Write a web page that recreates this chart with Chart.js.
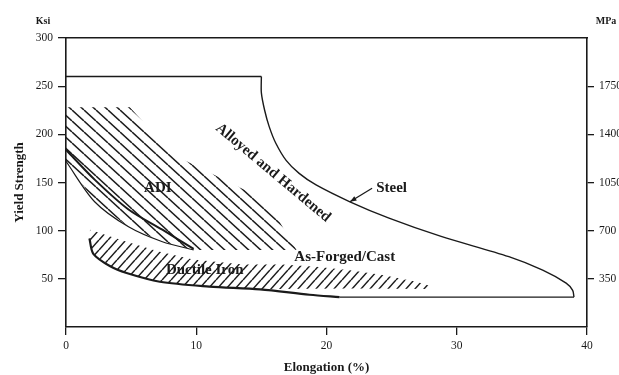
<!DOCTYPE html>
<html lang="en">
<head>
<meta charset="UTF-8">
<title>Yield Strength vs Elongation</title>
<script src="https://cdn.jsdelivr.net/npm/chart.js"></script>
<style>
  body { margin: 0; background: #fff; }
  canvas { display: block; }
</style>
</head>
<body>
<canvas id="chart" width="619" height="375"></canvas>
<script>
// outlines, as [elongation %, yield strength ksi]
const steelTop = [[0, 260], [15, 260]];
const steelCurve = [[15, 260], [15, 243], [15.25, 225], [15.6, 208], [16.1, 191], [16.9, 173],
  [17.9, 159.5], [19.2, 147.5], [21.8, 130], [24.8, 113], [28.8, 94], [34, 73],
  [36.6, 59], [38.4, 45.5], [38.9, 38], [39, 31]];
const steelBottom = [[39, 31], [21, 31]];
const ductileLower = [[21, 31], [18.7, 33.5], [14.9, 39], [11, 42], [7.2, 47], [4.65, 56],
  [3.4, 63], [2.1, 76], [1.8, 92]];
const adiUpper = [[0, 184], [2.2, 153], [4.8, 122], [7.4, 101], [9.8, 81]];
const adiLower = [[0, 172], [2.2, 130], [4.8, 104], [7.4, 88.5], [9.8, 80]];

// hatched areas
const adiHatch = [[0, 228], [4.9, 228], [8.2, 179], [14.2, 139], [16.4, 109], [17.7, 80],
  [9.8, 80], [7.4, 88.5], [4.8, 104], [2.2, 130], [0, 172]];
const ductileHatch = [[1.84, 101], [3.4, 94], [4.65, 88.6], [7.2, 78], [9.75, 70], [13.6, 65],
  [16.6, 65], [19.2, 62.6], [21.8, 59], [24.3, 54], [26.9, 47], [28.1, 42], [28.1, 39.5],
  [21.8, 40], [16, 39.5], [14.9, 39], [11, 42], [7.2, 47], [4.65, 56], [3.4, 63],
  [2.1, 76], [1.84, 92]];

const mpaTicks = [50, 100, 150, 200, 250];
const mpaLabels = ['350', '700', '1050', '1400', '1750'];

const regionLabels = [
  { text: 'ADI', at: [7.05, 144] },
  { text: 'Ductile Iron', at: [10.65, 59] },
  { text: 'As-Forged/Cast', at: [21.4, 73] },
  { text: 'Steel', at: [25, 144] },
  { text: 'Alloyed and Hardened', at: [15.9, 160], angle: 40 }
];
const steelArrow = [[23.5, 144], [21.8, 130]];

const ink = '#1a1a1a';
const serif = '"Liberation Serif", "DejaVu Serif", serif';

function hatch(w, h, rising) {
  const c = document.createElement('canvas');
  c.width = w; c.height = h;
  const g = c.getContext('2d');
  g.strokeStyle = ink;
  g.lineWidth = 1.5;
  for (const dx of [-w, 0, w]) {
    g.beginPath();
    if (rising) { g.moveTo(dx, h); g.lineTo(dx + w, 0); }
    else { g.moveTo(dx, 0); g.lineTo(dx + w, h); }
    g.stroke();
  }
  return g.createPattern(c, 'repeat');
}

const pts = arr => arr.map(p => ({ x: p[0], y: p[1] }));

function outline(arr, width, tension) {
  return { data: pts(arr), showLine: true, borderColor: ink, borderWidth: width,
    pointRadius: 0, tension: tension, fill: false };
}
function area(arr, pattern) {
  return { data: pts(arr), showLine: true, borderWidth: 0, borderColor: 'transparent',
    backgroundColor: pattern, pointRadius: 0, tension: 0, fill: 'shape' };
}

const notes = {
  id: 'notes',
  afterDatasetsDraw(chart) {
    const { ctx, chartArea, scales: { x, y } } = chart;
    ctx.save();
    ctx.fillStyle = ink;
    ctx.strokeStyle = ink;
    ctx.textAlign = 'center';
    ctx.textBaseline = 'middle';
    ctx.font = 'bold 15px ' + serif;
    regionLabels.forEach(l => {
      ctx.save();
      ctx.translate(x.getPixelForValue(l.at[0]), y.getPixelForValue(l.at[1]));
      ctx.rotate((l.angle || 0) * Math.PI / 180);
      ctx.fillText(l.text, 0, 0);
      ctx.restore();
    });

    // arrow from "Steel" to the curve
    const x0 = x.getPixelForValue(steelArrow[0][0]), y0 = y.getPixelForValue(steelArrow[0][1]);
    const x1 = x.getPixelForValue(steelArrow[1][0]), y1 = y.getPixelForValue(steelArrow[1][1]);
    const a = Math.atan2(y1 - y0, x1 - x0);
    ctx.lineWidth = 1.3;
    ctx.beginPath(); ctx.moveTo(x0, y0); ctx.lineTo(x1, y1); ctx.stroke();
    ctx.beginPath();
    ctx.moveTo(x1, y1);
    ctx.lineTo(x1 - 7 * Math.cos(a - 0.35), y1 - 7 * Math.sin(a - 0.35));
    ctx.lineTo(x1 - 7 * Math.cos(a + 0.35), y1 - 7 * Math.sin(a + 0.35));
    ctx.closePath(); ctx.fill();

    // unit labels
    ctx.font = 'bold 10px ' + serif;
    ctx.fillText('Ksi', chartArea.left - 23, chartArea.top - 17);
    ctx.fillText('MPa', chartArea.right + 19, chartArea.top - 17);
    ctx.restore();
  }
};

const tickFont = { family: serif, size: 11.5 };
const titleFont = { family: serif, size: 13, weight: 'bold' };

new Chart(document.getElementById('chart'), {
  type: 'scatter',
  data: {
    datasets: [
      outline(steelTop, 1.5, 0),
      outline(steelCurve, 1.4, 0.3),
      outline(steelBottom, 1.3, 0),
      outline(ductileLower, 2.2, 0.3),
      outline(adiUpper, 2.0, 0.3),
      outline(adiLower, 1.2, 0.3),
      area(adiHatch, hatch(12, 11, false)),
      area(ductileHatch, hatch(9, 10, true))
    ]
  },
  options: {
    responsive: false,
    animation: false,
    layout: { padding: { top: 38, left: 0, right: 0, bottom: 0 } },
    plugins: { legend: { display: false }, tooltip: { enabled: false } },
    scales: {
      x: {
        type: 'linear', position: 'bottom', min: 0, max: 40,
        afterFit: s => { s.height = 48; },
        ticks: { stepSize: 10, color: ink, font: tickFont, padding: 4 },
        grid: { drawOnChartArea: false, tickLength: 8, color: ink, lineWidth: 1.3 },
        border: { display: true, color: ink, width: 1.6 },
        title: { display: true, text: 'Elongation (%)', color: ink, font: titleFont, padding: 0 }
      },
      x2: {
        type: 'linear', position: 'top', min: 0, max: 40,
        afterFit: s => { s.height = 0; },
        ticks: { display: false },
        grid: { display: false },
        border: { display: true, color: ink, width: 1.6 }
      },
      y: {
        type: 'linear', position: 'left', min: 0, max: 300,
        afterFit: s => { s.width = 66; },
        ticks: { stepSize: 50, color: ink, font: tickFont, padding: 5,
          callback: v => v === 0 ? '' : v },
        grid: { drawOnChartArea: false, tickLength: 8, lineWidth: 1.3,
          color: c => c.tick && c.tick.value === 0 ? 'rgba(0,0,0,0)' : ink },
        border: { display: true, color: ink, width: 1.6 },
        title: { display: true, text: 'Yield Strength', color: ink, font: titleFont,
          padding: { top: 12, bottom: 0 } }
      },
      y2: {
        type: 'linear', position: 'right', min: 0, max: 300,
        afterFit: s => { s.width = 32; },
        afterBuildTicks: s => { s.ticks = mpaTicks.map(v => ({ value: v })); },
        ticks: { color: ink, font: tickFont, padding: 5, callback: (v, i) => mpaLabels[i] },
        grid: { drawOnChartArea: false, tickLength: 7, color: ink, lineWidth: 1.3 },
        border: { display: true, color: ink, width: 1.6 }
      }
    }
  },
  plugins: [notes]
});
</script>
</body>
</html>
